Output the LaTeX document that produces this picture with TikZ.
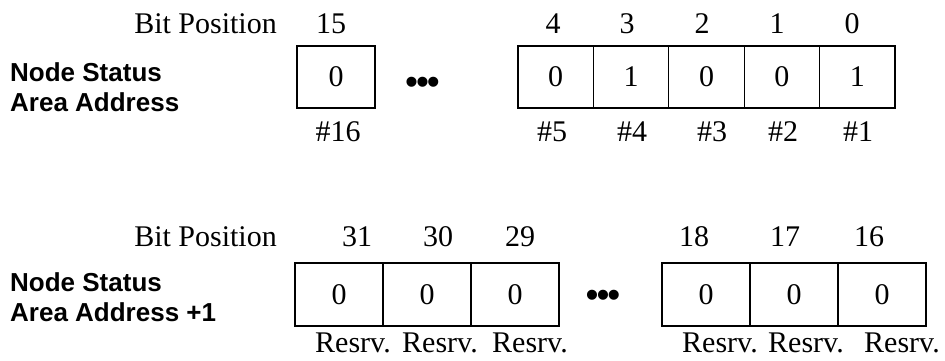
\documentclass[tikz,border=0pt]{standalone}
\usepackage{fontspec}
\setmainfont{Liberation Serif}
\setsansfont{Liberation Sans}

\newcommand{\bitgap}{\textbullet\kern-2pt\textbullet\kern-2pt\textbullet}

\begin{document}
\begin{tikzpicture}[x=1pt,y=-1pt,
	bit/.style={shape=rectangle,draw=black,line width=1.2pt,inner sep=0pt,minimum height=62pt,font=\fontsize{30}{36}\selectfont},
	lowbit/.style={bit,minimum width=75.4pt},
	highbit/.style={bit,minimum width=88pt,minimum height=63pt},
	num/.style={inner sep=0pt,font=\fontsize{30}{36}\selectfont},
	area/.style={inner sep=0pt,anchor=west,align=left,font=\fontsize{26}{30}\selectfont\sffamily\bfseries},
	gap/.style={inner sep=0pt,font=\fontsize{37}{40}\selectfont\sffamily}]
	
	\useasboundingbox (0,0) rectangle (945,360);
	
	% first word
	\node[num,anchor=east] (posA) at (277, 24) {Bit Position};
	\node[area] (areaA) at (10, 87) {Node Status\\Area Address};
	
	\node[bit,minimum width=78pt] (b15) at (336, 77) {0};
	\node[gap] (dotsA) at (422.5, 85.5) {\bitgap};
	\node[lowbit] (b4) at (555.7, 77) {0};
	\node[lowbit] (b3) at (631.1, 77) {1};
	\node[lowbit] (b2) at (706.5, 77) {0};
	\node[lowbit] (b1) at (781.9, 77) {0};
	\node[lowbit] (b0) at (857.3, 77) {1};
	
	\node[num] (n15) at (331, 24) {15};
	\node[num] (n4) at (553, 24) {4};
	\node[num] (n3) at (627, 24) {3};
	\node[num] (n2) at (702, 24) {2};
	\node[num] (n1) at (777, 24) {1};
	\node[num] (n0) at (852, 24) {0};
	
	\node[num] (s16) at (338, 132) {\#16};
	\node[num] (s5) at (552, 132) {\#5};
	\node[num] (s4) at (632, 132) {\#4};
	\node[num] (s3) at (712, 132) {\#3};
	\node[num] (s2) at (783, 132) {\#2};
	\node[num] (s1) at (858, 132) {\#1};
	
	% second word
	\node[num,anchor=east] (posB) at (277, 237) {Bit Position};
	\node[area] (areaB) at (10, 297.5) {Node Status\\Area Address +1};
	
	\node[highbit] (b31) at (339, 294.5) {0};
	\node[highbit] (b30) at (427, 294.5) {0};
	\node[highbit] (b29) at (515, 294.5) {0};
	\node[gap] (dotsB) at (603, 298.5) {\bitgap};
	\node[highbit] (b18) at (706, 294.5) {0};
	\node[highbit] (b17) at (794, 294.5) {0};
	\node[highbit] (b16) at (882, 294.5) {0};
	
	\node[num] (n31) at (357, 237) {31};
	\node[num] (n30) at (438, 237) {30};
	\node[num] (n29) at (520, 237) {29};
	\node[num] (n18) at (694, 237) {18};
	\node[num] (n17) at (785, 237) {17};
	\node[num] (n16) at (869, 237) {16};
	
	\node[num] (r31) at (353, 343) {Resrv.};
	\node[num] (r30) at (440, 343) {Resrv.};
	\node[num] (r29) at (530, 343) {Resrv.};
	\node[num] (r18) at (720, 343) {Resrv.};
	\node[num] (r17) at (806, 343) {Resrv.};
	\node[num] (r16) at (902, 343) {Resrv.};
	
\end{tikzpicture}
\end{document}
